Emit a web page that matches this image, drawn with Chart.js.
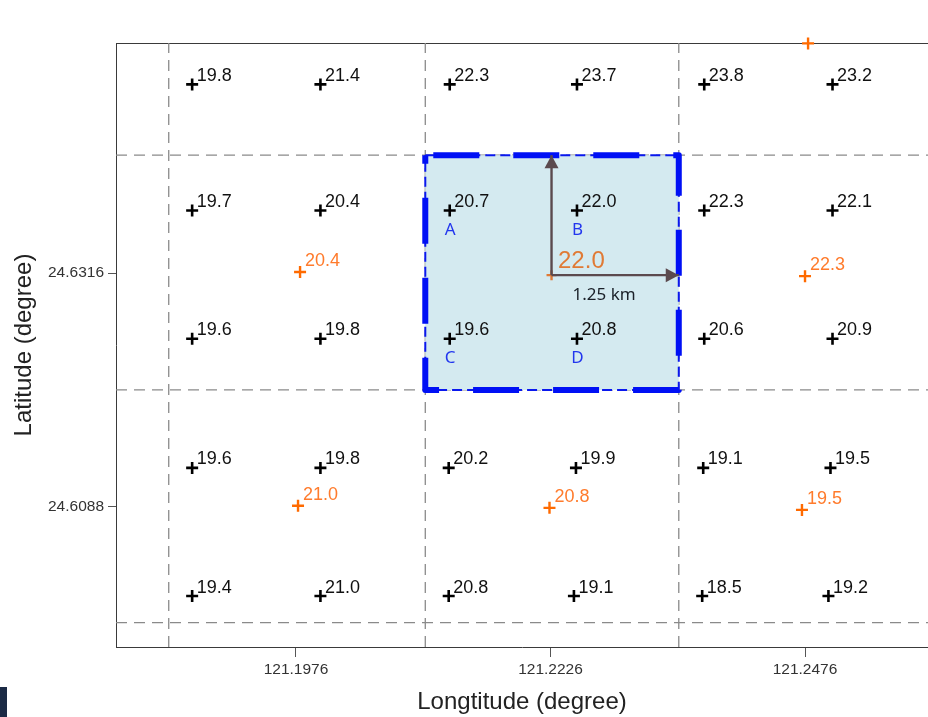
<!DOCTYPE html>
<html>
<head>
<meta charset="utf-8">
<script src="https://cdn.jsdelivr.net/npm/chart.js@4.4.1/dist/chart.umd.min.js"></script>
<style>
  html, body { margin: 0; padding: 0; background: #ffffff; }
  canvas { display: block; }
</style>
</head>
<body>
<canvas id="c" width="928" height="717"></canvas>
<script>
// Model grid points: rows run north to south, columns west to east
const gridLat = [24.6500, 24.6377, 24.6252, 24.6126, 24.6001];
const gridLon = [
  [121.1874, 121.2000, 121.2127, 121.2252, 121.2377, 121.2503],
  [121.1874, 121.2000, 121.2127, 121.2252, 121.2377, 121.2503],
  [121.1874, 121.2000, 121.2127, 121.2252, 121.2377, 121.2503],
  [121.1874, 121.2000, 121.2126, 121.2251, 121.2376, 121.2501],
  [121.1874, 121.2000, 121.2126, 121.2249, 121.2375, 121.2499]
];
const gridValues = [
  [19.8, 21.4, 22.3, 23.7, 23.8, 23.2],
  [19.7, 20.4, 20.7, 22.0, 22.3, 22.1],
  [19.6, 19.8, 19.6, 20.8, 20.6, 20.9],
  [19.6, 19.8, 20.2, 19.9, 19.1, 19.5],
  [19.4, 21.0, 20.8, 19.1, 18.5, 19.2]
];

// Observation stations (the last one sits on the northern edge, unlabelled)
const stationLon   = [121.1980, 121.2227, 121.2476, 121.1978, 121.2225, 121.2473, 121.2479];
const stationLat   = [24.6317, 24.6314, 24.6313, 24.6089, 24.6087, 24.6085, 24.6540];
const stationValue = [20.4, 22.0, 22.3, 21.0, 20.8, 19.5, null];
const focusStation = 1;

// Station cell boundaries
const cellEdgeLon = [121.1851, 121.2103, 121.2352];
const cellEdgeLat = [24.6431, 24.6202, 24.5975];

// Highlighted cell and its four grid points
const focusCellLon = [121.2103, 121.2352];
const focusCellLat = [24.6202, 24.6431];
const cornerLetters = ['A', 'B', 'C', 'D'];
const cornerCells = [[1, 2], [1, 3], [2, 2], [2, 3]];
const spacingLabel = '1.25 km';

// Axes
const xTicks = [121.1976, 121.2226, 121.2476];
const yTicks = [24.6088, 24.6316];
const xRange = [121.17992, 121.25968];
const yRange = [24.59513, 24.65404];

const SANS = '"Liberation Sans", Arial, Helvetica, sans-serif';
const UI = '"Noto Sans", "Open Sans", sans-serif';

// ---- datasets ----
const gridPoints = [];
gridValues.forEach((row, r) => row.forEach((v, c) => {
  gridPoints.push({ x: gridLon[r][c], y: gridLat[r], v: v });
}));

const stationPoints = stationLon.map((lon, i) => ({ x: lon, y: stationLat[i], v: stationValue[i] }));

const dashedLines = [];
cellEdgeLon.forEach(lon => dashedLines.push([{ x: lon, y: yRange[0] }, { x: lon, y: yRange[1] }]));
cellEdgeLat.forEach(lat => dashedLines.push([{ x: xRange[0], y: lat }, { x: xRange[1], y: lat }]));

const cellOutline = [
  { x: focusCellLon[0], y: focusCellLat[1] },
  { x: focusCellLon[1], y: focusCellLat[1] },
  { x: focusCellLon[1], y: focusCellLat[0] },
  { x: focusCellLon[0], y: focusCellLat[0] },
  { x: focusCellLon[0], y: focusCellLat[1] }
];

const center = stationPoints[focusStation];
const arrowUp = [{ x: center.x, y: center.y }, { x: center.x, y: focusCellLat[1] }];
const arrowRight = [{ x: center.x, y: center.y }, { x: focusCellLon[1], y: center.y }];

const lineBase = { showLine: true, pointRadius: 0, pointHoverRadius: 0, fill: false };

const datasets = [];
dashedLines.forEach(d => datasets.push(Object.assign({}, lineBase, {
  data: d, borderColor: '#8a8a8a', borderWidth: 1.3, borderDash: [11, 7], order: 20
})));
datasets.push(Object.assign({}, lineBase, {
  data: cellOutline, fill: 'shape', backgroundColor: '#d4eaf0', borderWidth: 0,
  borderColor: 'rgba(0,0,0,0)', order: 15
}));
datasets.push(Object.assign({}, lineBase, {
  data: cellOutline, borderColor: '#0a18ee', borderWidth: 2, borderDash: [10, 5], order: 14
}));
datasets.push(Object.assign({}, lineBase, {
  data: cellOutline, borderColor: '#0010f5', borderWidth: 6, borderDash: [46, 34],
  borderDashOffset: 72, borderJoinStyle: 'round', borderCapStyle: 'butt', order: 13
}));
datasets.push({
  data: gridPoints, showLine: false, pointStyle: 'cross', pointRadius: 6, pointHoverRadius: 6,
  pointBorderWidth: 2.6, pointBorderColor: '#000', pointBackgroundColor: '#000', order: 6
});
datasets.push({
  data: stationPoints, showLine: false, pointStyle: 'cross', clip: false,
  pointRadius: ctx => ctx.dataIndex === focusStation ? 5 : 6,
  pointHoverRadius: 6, pointBorderWidth: 2.4,
  pointBorderColor: ctx => ctx.dataIndex === focusStation ? '#e07a35' : '#ff6a00',
  order: 5
});
const arrowStart = datasets.length;
datasets.push(Object.assign({}, lineBase, { data: arrowUp, borderColor: '#5b4a4e', borderWidth: 2.4, order: 4 }));
datasets.push(Object.assign({}, lineBase, { data: arrowRight, borderColor: '#5b4a4e', borderWidth: 2.4, order: 4 }));

// ---- plugins ----
const frame = {
  id: 'frame',
  beforeDatasetsDraw(chart) {
    const { ctx, chartArea: a } = chart;
    ctx.save();
    ctx.strokeStyle = '#3a3a3a';
    ctx.lineWidth = 1;
    ctx.beginPath();
    ctx.moveTo(a.left, Math.round(a.top) + 0.5);
    ctx.lineTo(a.right, Math.round(a.top) + 0.5);
    ctx.stroke();
    ctx.restore();
  },
  afterDraw(chart) {
    const { ctx, height } = chart;
    ctx.save();
    ctx.fillStyle = '#1b2a45';
    ctx.fillRect(0, height - 30, 7, 30);
    ctx.restore();
  }
};

const annotations = {
  id: 'annotations',
  afterDatasetsDraw(chart) {
    const { ctx, chartArea: a, scales: { x, y } } = chart;
    ctx.save();

    // arrow heads
    for (let k = arrowStart; k < arrowStart + 2; k++) {
      const meta = chart.getDatasetMeta(k);
      const p0 = meta.data[0], p1 = meta.data[1];
      const ang = Math.atan2(p1.y - p0.y, p1.x - p0.x);
      const L = 13, W = 7;
      ctx.fillStyle = '#5b4a4e';
      ctx.beginPath();
      ctx.moveTo(p1.x, p1.y);
      ctx.lineTo(p1.x - L * Math.cos(ang) + W * Math.sin(ang), p1.y - L * Math.sin(ang) - W * Math.cos(ang));
      ctx.lineTo(p1.x - L * Math.cos(ang) - W * Math.sin(ang), p1.y - L * Math.sin(ang) + W * Math.cos(ang));
      ctx.closePath();
      ctx.fill();
    }

    ctx.beginPath();
    ctx.rect(a.left, a.top, a.right - a.left, a.bottom - a.top);
    ctx.clip();
    ctx.textBaseline = 'alphabetic';
    ctx.textAlign = 'left';

    // grid point values
    ctx.font = '18px ' + SANS;
    ctx.fillStyle = '#111';
    gridPoints.forEach(p => {
      ctx.fillText(p.v.toFixed(1), x.getPixelForValue(p.x) + 4.5, y.getPixelForValue(p.y) - 3.5);
    });

    // station values
    stationPoints.forEach((p, i) => {
      if (p.v === null) return;
      const px = x.getPixelForValue(p.x), py = y.getPixelForValue(p.y);
      if (i === focusStation) {
        ctx.font = '24px ' + SANS;
        ctx.fillStyle = '#e07a35';
        ctx.fillText(p.v.toFixed(1), px + 6.5, py - 7.5);
      } else {
        ctx.font = '18px ' + SANS;
        ctx.fillStyle = '#ff7b2c';
        ctx.fillText(p.v.toFixed(1), px + 5, py - 6);
      }
    });

    // corner letters of the highlighted cell
    ctx.font = '17px ' + UI;
    ctx.fillStyle = '#2236ee';
    ctx.textAlign = 'center';
    cornerCells.forEach(([r, c], i) => {
      ctx.fillText(cornerLetters[i], x.getPixelForValue(gridLon[r][c]) + 0.5, y.getPixelForValue(gridLat[r]) + 24);
    });

    // spacing label under the horizontal arrow
    ctx.font = '17px ' + UI;
    ctx.fillStyle = '#1a2028';
    ctx.textAlign = 'left';
    ctx.fillText(spacingLabel, x.getPixelForValue(center.x) + 21, y.getPixelForValue(center.y) + 24.5);

    ctx.restore();
  }
};

// keep the plot frame flush with the canvas edge: no extra room for edge labels
const noEdgePadding = s => { s.paddingLeft = 0; s.paddingRight = 0; s.paddingTop = 0; s.paddingBottom = 0; };

new Chart(document.getElementById('c'), {
  type: 'scatter',
  data: { datasets: datasets },
  options: {
    responsive: false,
    devicePixelRatio: 1,
    animation: false,
    events: [],
    layout: { autoPadding: false, padding: { top: 43, left: 0, right: 0, bottom: 0 } },
    plugins: { legend: { display: false }, tooltip: { enabled: false } },
    scales: {
      x: {
        type: 'linear', min: xRange[0], max: xRange[1],
        afterBuildTicks: s => { s.ticks = xTicks.map(v => ({ value: v })); },
        afterFit: s => { s.height = 70; noEdgePadding(s); },
        ticks: { callback: v => Number(v).toFixed(4), font: { family: SANS, size: 15.5 }, color: '#333', padding: 3, maxRotation: 0, autoSkip: false },
        grid: { drawOnChartArea: false, drawTicks: true, tickLength: 10, color: '#555', lineWidth: 1 },
        border: { display: true, color: '#3a3a3a', width: 1 },
        title: { display: true, text: 'Longtitude (degree)', font: { family: SANS, size: 24 }, color: '#222', padding: { top: 0, bottom: 0 } }
      },
      y: {
        type: 'linear', min: yRange[0], max: yRange[1],
        afterBuildTicks: s => { s.ticks = yTicks.map(v => ({ value: v })); },
        afterFit: s => { s.width = 116; noEdgePadding(s); },
        ticks: { callback: v => Number(v).toFixed(4), font: { family: SANS, size: 15.5 }, color: '#333', padding: 4, autoSkip: false },
        grid: { drawOnChartArea: false, drawTicks: true, tickLength: 8, color: '#555', lineWidth: 1 },
        border: { display: true, color: '#3a3a3a', width: 1 },
        title: { display: true, text: 'Latitude (degree)', font: { family: SANS, size: 24 }, color: '#222', padding: { top: 10, bottom: 0 } }
      }
    }
  },
  plugins: [frame, annotations]
});
</script>
</body>
</html>
